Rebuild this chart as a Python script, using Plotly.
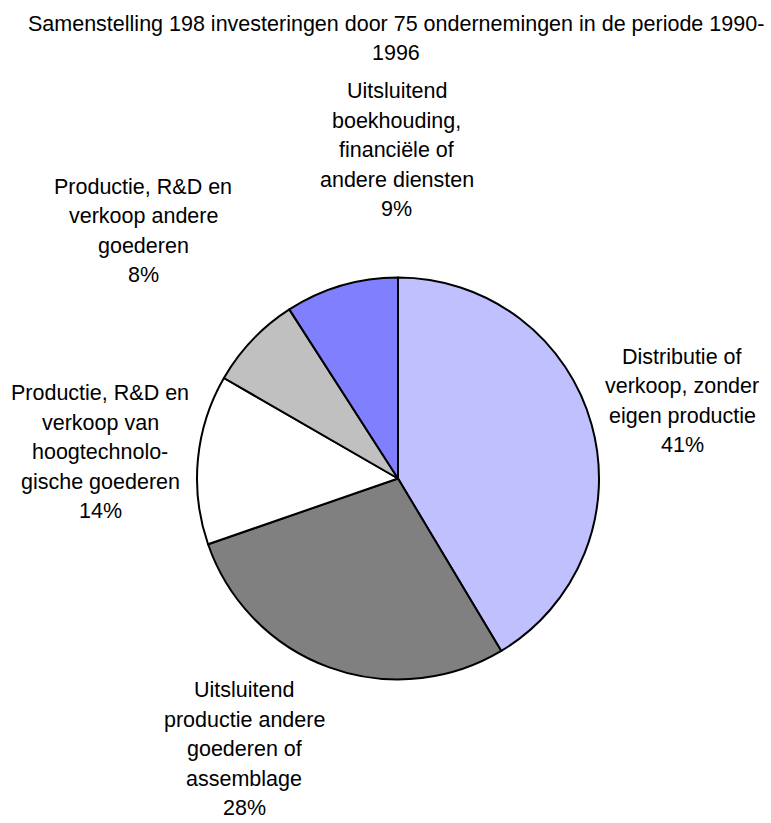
import plotly.graph_objects as go

# Investeringen per type activiteit (aantal, totaal 198)
categories = [
    "Distributie of<br>verkoop, zonder<br>eigen productie",
    "Uitsluitend<br>productie andere<br>goederen of<br>assemblage",
    "Productie, R&D en<br>verkoop van<br>hoogtechnolo-<br>gische goederen",
    "Productie, R&D en<br>verkoop andere<br>goederen",
    "Uitsluitend<br>boekhouding,<br>financiële of<br>andere diensten",
]
counts = [82, 56, 27, 15, 18]
colors = ["#C0C0FF", "#808080", "#FFFFFF", "#C0C0C0", "#8080FF"]
title_lines = ["Samenstelling 198 investeringen door 75 ondernemingen in de periode 1990-", "1996"]

W, H = 771, 823
FONT = "Liberation Sans, Arial, sans-serif"
FS = 21.5
LS = 29.5  # line spacing in px

# label block centres in pixels (x, y)
label_pos = [(682, 401), (244, 749), (100, 452), (143, 231), (397, 150)]


def add_block(fig, lines, cx, cy, spacing):
    n = len(lines)
    for i, line in enumerate(lines):
        ypx = cy - (n - 1) / 2 * spacing + i * spacing
        fig.add_annotation(
            text=line, x=cx / W, y=1 - ypx / H,
            xref="paper", yref="paper", xanchor="center", yanchor="middle",
            showarrow=False, font=dict(family=FONT, size=FS, color="black"),
        )


fig = go.Figure(go.Pie(
    values=counts,
    labels=[c.replace("<br>", " ") for c in categories],
    marker=dict(colors=colors, line=dict(color="black", width=2)),
    sort=False,
    direction="clockwise",
    rotation=0,
    textinfo="none",
    hoverinfo="label+percent",
    domain=dict(x=[197 / W, 599 / W], y=[1 - 680 / H, 1 - 277 / H]),
    showlegend=False,
))

total = sum(counts)
for cat, n, (cx, cy) in zip(categories, counts, label_pos):
    lines = cat.split("<br>") + [f"{round(100 * n / total)}%"]
    add_block(fig, lines, cx, cy, LS)

add_block(fig, title_lines, 396, 38.5, 29)

fig.update_layout(
    width=W, height=H,
    margin=dict(l=0, r=0, t=0, b=0),
    paper_bgcolor="white", plot_bgcolor="white",
)

# drop the default 8px page margin so the figure fills the window
fig.write_html("out.html", config={"displayModeBar": False},
               post_script="document.body.style.margin='0';")
